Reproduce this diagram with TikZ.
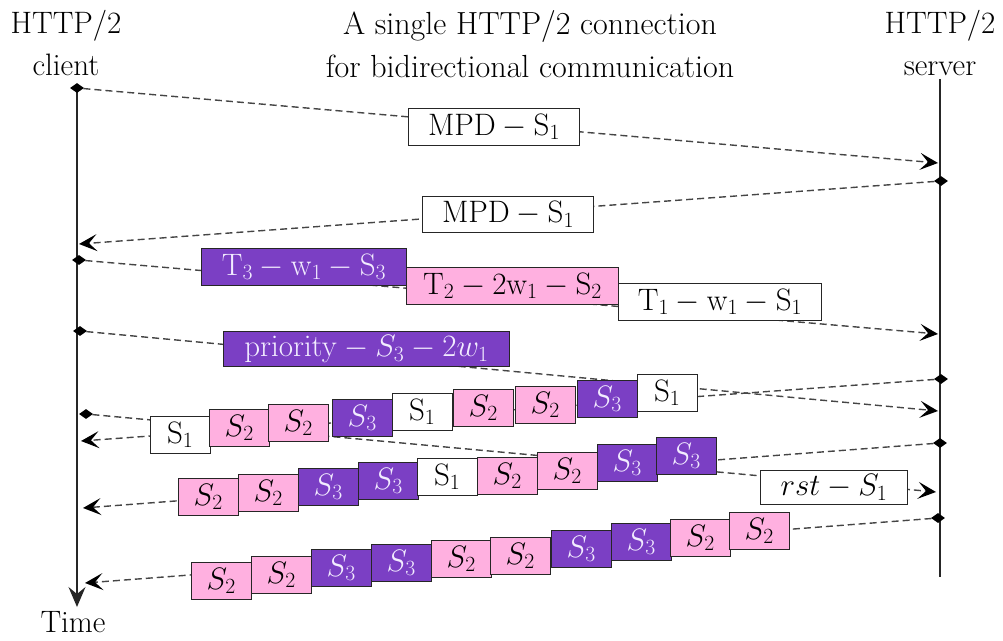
\documentclass[tikz,border=0pt]{standalone}
\usepackage{fix-cm}
\usepackage{amsmath, amssymb}
\usepackage{tikz}
\usetikzlibrary{arrows.meta, shapes.geometric}
\definecolor{purc}{HTML}{7B3FC4}
\definecolor{pinkc}{HTML}{FFB0E0}
\definecolor{lnc}{HTML}{454545}
\definecolor{lavc}{HTML}{F2ECFF}

\begin{document}
\begin{tikzpicture}[x=1pt, y=-1pt, font=\fontsize{31}{42}\selectfont,
          bx/.style={draw=black!85, line width=1pt, anchor=north west, inner sep=0pt, minimum height=36.5pt},
          wh/.style={bx, fill=white, minimum width=59.5pt},
          pk/.style={bx, fill=pinkc, minimum width=59.5pt},
          pu/.style={bx, fill=purc, text=lavc, minimum width=59.5pt},
          dm/.style={diamond, fill=black, inner sep=0pt, minimum width=14pt, minimum height=10pt},
          msg/.style={lnc, line width=1.4pt, dash pattern=on 7pt off 4pt, -{Stealth[length=18pt, width=17pt, inset=8pt, black]}},
          life/.style={line width=1.4pt, black!85}]
        \useasboundingbox (0,0) rectangle (1003,640);
        \node[align=center] (cl) at (66,43) {HTTP/2\\client};
        \node[align=center] (sv) at (940,43) {HTTP/2\\server};
        \node[align=center, font=\fontsize{32}{43}\selectfont] (ttl) at (530,44) {A single HTTP/2 connection\\for bidirectional communication};
        \node (time) at (73,622) {Time};
        \coordinate (ctop) at (77,86); \coordinate (cbot) at (77,607);
        \coordinate (stop) at (940,79); \coordinate (sbot) at (940,577);
        \draw[life, -{Stealth[length=20pt, width=17pt, inset=7pt]}] (ctop) -- (cbot);
        \draw[life] (stop) -- (sbot);
        \node[dm] (d1) at (77,88) {};  \coordinate (e1) at (938,163);
        \node[dm] (d2) at (941,181) {}; \coordinate (e2) at (79,244);
        \node[dm] (d3) at (79,260) {};  \coordinate (e3) at (938,334);
        \node[dm] (d4) at (80,331) {};  \coordinate (e4) at (938,411);
        \node[dm] (d5) at (941,379) {}; \coordinate (e5) at (81,441);
        \node[dm] (d6) at (86,414) {};  \coordinate (e6) at (936,492);
        \node[dm] (d7) at (940,443) {}; \coordinate (e7) at (83,508);
        \node[dm] (d8) at (938,518) {}; \coordinate (e8) at (85,583);
        \foreach \i in {1,...,8}{ \draw[msg] (d\i) -- (e\i); }
        \node[wh, minimum width=171pt, minimum height=37pt] (mpd1) at (408,108) {$\mathrm{MPD}-\mathrm{S}_1$};
        \node[wh, minimum width=171pt, minimum height=36pt] (mpd2) at (422,196) {$\mathrm{MPD}-\mathrm{S}_1$};
        \node[pu, minimum width=205pt] (t3) at (201,248) {$\mathrm{T}_3-\mathrm{w}_1-\mathrm{S}_3$};
        \node[pk, minimum width=212pt] (t2) at (406,267) {$\mathrm{T}_2-2\mathrm{w}_1-\mathrm{S}_2$};
        \node[wh, minimum width=203pt] (t1) at (618,283) {$\mathrm{T}_1-\mathrm{w}_1-\mathrm{S}_1$};
        \node[pu, minimum width=286pt, minimum height=35pt] (prio) at (223,331) {$\mathrm{priority}-S_3-2w_1$};
        \node[wh, minimum width=147pt, minimum height=34pt] (rst) at (760,470) {$rst-S_1$};
        \foreach \x/\y/\k/\t [count=\i] in {150/416/wh/{\mathrm{S}_1}, 209/409/pk/{S_2}, 268/404/pk/{S_2}, 332/399/pu/{S_3}, 392/393/wh/{\mathrm{S}_1},
            453/389/pk/{S_2}, 515/386/pk/{S_2}, 577/380/pu/{S_3}, 637/374/wh/{\mathrm{S}_1}}
          \node[\k] (a\i) at (\x,\y) {$\t$};
        \foreach \x/\y/\k/\t [count=\i] in {178/478/pk/{S_2}, 238/474/pk/{S_2}, 298/468/pu/{S_3}, 358/462/pu/{S_3}, 417/458/wh/{\mathrm{S}_1},
            477/457/pk/{S_2}, 537/452/pk/{S_2}, 597/444/pu/{S_3}, 656/437/pu/{S_3}}
          \node[\k] (b\i) at (\x,\y) {$\t$};
        \foreach \x/\y/\k/\t [count=\i] in {191/562/pk/{S_2}, 251/556/pk/{S_2}, 311/549/pu/{S_3}, 371/544/pu/{S_3}, 431/540/pk/{S_2},
            490/537/pk/{S_2}, 551/530/pu/{S_3}, 611/523/pu/{S_3}, 670/519/pk/{S_2}, 729/512/pk/{S_2}}
          \node[\k] (c\i) at (\x,\y) {$\t$};
      \end{tikzpicture}
\end{document}
